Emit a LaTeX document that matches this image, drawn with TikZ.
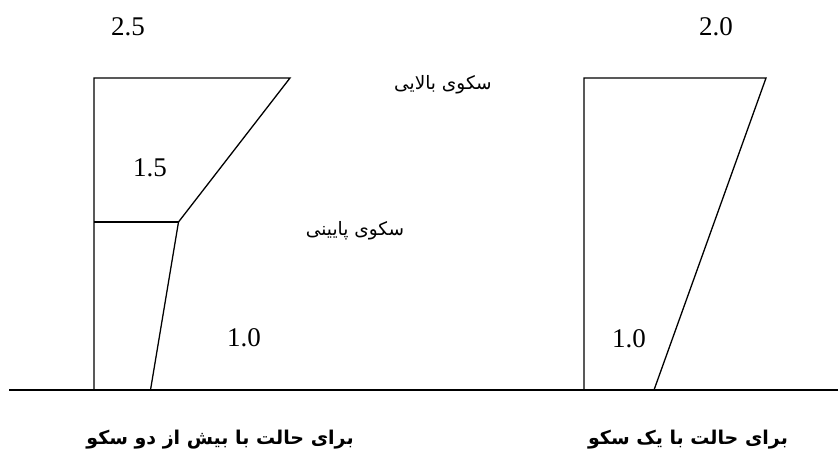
\documentclass[tikz,border=0pt]{standalone}
\usepackage{fontspec}
\setmainfont{Liberation Serif}
\newfontfamily\arabicfont[Script=Arabic]{DejaVu Sans}
\TeXXeTstate=1
\begin{document}
\begin{tikzpicture}[x=1pt,y=-1pt,
  wall/.style={line width=1.3pt,line join=miter},
  num/.style={font=\fontsize{27}{29}\selectfont,inner sep=0pt},
  fa/.style={font=\arabicfont\fontsize{18.5}{21}\selectfont,inner sep=0pt},
  fab/.style={font=\arabicfont\bfseries\fontsize{19}{22}\selectfont,inner sep=0pt}]
\useasboundingbox (0,0) rectangle (838,466);
% ground
\coordinate (g1) at (9,390);
\coordinate (g2) at (838,390);
\draw[wall] (g1) -- (g2);
% left figure
\coordinate (la) at (94,390);
\coordinate (lb) at (94,78);
\coordinate (lc) at (290,78);
\coordinate (lk) at (178.5,222);
\coordinate (lm) at (94,222);
\coordinate (ld) at (150.5,390);
\draw[wall] (la) -- (lb) -- (lc) -- (lk) -- (ld);
\draw[wall] (lm) -- (lk);
% right figure
\coordinate (ra) at (584,390);
\coordinate (rb) at (584,78);
\coordinate (rc) at (766,78);
\coordinate (rd) at (654,390);
\draw[wall] (ra) -- (rb) -- (rc) -- (rd);
% numbers
\node[num] (n25) at (128,27) {2.5};
\node[num] (n20) at (716,27) {2.0};
\node[num] (n15) at (150,168) {1.5};
\node[num] (n10a) at (244,338) {1.0};
\node[num] (n10b) at (629,339) {1.0};
% persian labels
\node[fa] (up) at (443,85) {\beginR سکوی بالایی\endR};
\node[fa] (low) at (355,231) {\beginR سکوی پایینی\endR};
\node[fab] (lab1) at (220,440) {\beginR برای حالت با بیش از دو سکو\endR};
\node[fab] (lab2) at (688,440) {\beginR برای حالت با یک سکو\endR};
\end{tikzpicture}
\end{document}
